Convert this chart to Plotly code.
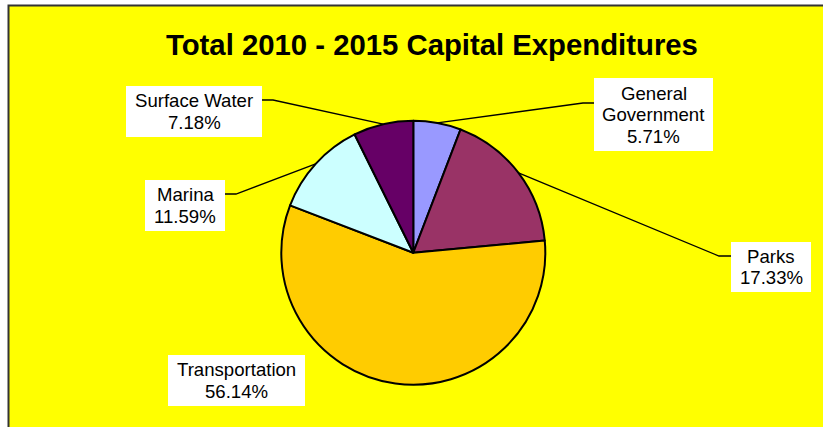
import math
import plotly.graph_objects as go

# ---- data -------------------------------------------------------------
categories = ["General Government", "Parks", "Transportation", "Marina", "Surface Water"]
shares = [5.71, 17.33, 56.14, 11.59, 7.18]
name_lines = [["General", "Government"], ["Parks"], ["Transportation"], ["Marina"], ["Surface Water"]]
slice_colors = ["#9999FF", "#993366", "#FFCC00", "#CCFFFF", "#660066"]
title_text = "Total 2010 - 2015 Capital Expenditures"

# ---- layout constants (pixels) ---------------------------------------
W, H = 823, 427
CX, CY, R = 413.3, 252.7, 132.0          # pie centre and radius
FONT = "Liberation Sans, Arial, Helvetica, sans-serif"
LABEL_SIZE = 18.6
LINE_STEP = 21.5

# label box (x0, x1, y0, y1) and leader elbow (x, y) / box edge x
label_boxes = [
    (594, 713, 78, 151),
    (731, 811, 242, 292),
    (168, 305, 355, 406),
    (145, 225, 180, 231),
    (126, 262, 86, 137),
]
leader_elbows = [
    ((583, 103), 594),
    ((719, 256), 731),
    None,
    ((236, 194), 225),
    ((273, 100), 262),
]


def px(x):
    return x / W


def py(y):
    return 1 - y / H


fig = go.Figure(
    go.Pie(
        labels=categories,
        values=shares,
        sort=False,
        direction="clockwise",
        rotation=0,
        textinfo="none",
        hoverinfo="label+percent",
        marker=dict(colors=slice_colors, line=dict(color="black", width=2)),
        domain=dict(x=[px(CX - R), px(CX + R)], y=[py(CY + R), py(CY - R)]),
        showlegend=False,
    )
)

shapes = [
    # yellow chart area with its frame
    dict(type="rect", xref="paper", yref="paper",
         x0=px(8.5), x1=1.05, y0=-0.05, y1=py(5.5),
         fillcolor="#FFFF00", line=dict(color="#333333", width=2), layer="below"),
]
annotations = [
    dict(text=title_text, x=px(432.5), y=py(44.5), xref="paper", yref="paper",
         xanchor="center", yanchor="middle", showarrow=False,
         font=dict(family=FONT, size=29.3, color="black", weight="bold")),
]

total = sum(shares)
cum = 0.0
for i, v in enumerate(shares):
    mid = (cum + v / 2) / total
    cum += v
    theta = 2 * math.pi * mid
    sx = CX + R * math.sin(theta)
    sy = CY - R * math.cos(theta)

    x0, x1, y0, y1 = label_boxes[i]
    shapes.append(dict(type="rect", xref="paper", yref="paper",
                       x0=px(x0), x1=px(x1), y0=py(y1), y1=py(y0),
                       fillcolor="white", line=dict(width=0), layer="above"))

    if leader_elbows[i] is not None:
        (ex, ey), edge = leader_elbows[i]
        path = (f"M {px(sx)},{py(sy)} L {px(ex)},{py(ey)} L {px(edge)},{py(ey)}")
        shapes.append(dict(type="path", xref="paper", yref="paper", path=path,
                           line=dict(color="black", width=1.3), layer="above"))

    lines = name_lines[i] + [f"{v:.2f}%"]
    bx = (x0 + x1) / 2
    by = (y0 + y1) / 2
    n = len(lines)
    for k, t in enumerate(lines):
        ly = by + (k - (n - 1) / 2) * LINE_STEP
        annotations.append(dict(text=t, x=px(bx), y=py(ly), xref="paper", yref="paper",
                                xanchor="center", yanchor="middle", showarrow=False,
                                font=dict(family=FONT, size=LABEL_SIZE, color="black")))

fig.update_layout(
    width=W, height=H,
    margin=dict(l=0, r=0, t=0, b=0),
    paper_bgcolor="white",
    plot_bgcolor="white",
    shapes=shapes,
    annotations=annotations,
)

fig.write_html("out.html", config={"displayModeBar": False})
